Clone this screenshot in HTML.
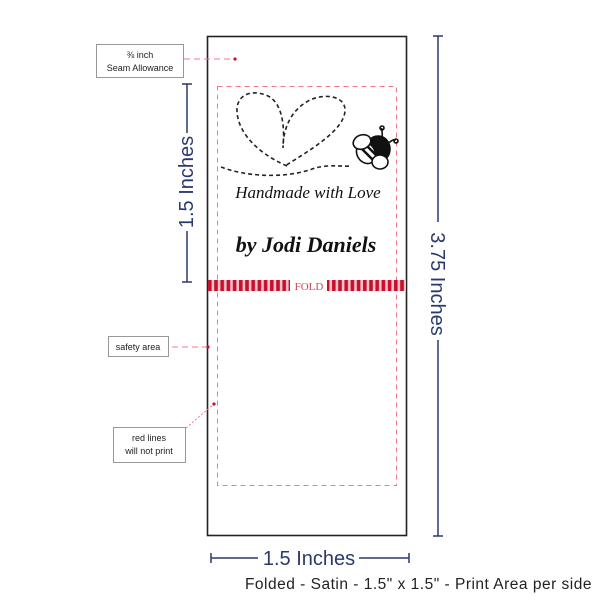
<!DOCTYPE html>
<html><head><meta charset="utf-8"><style>
html,body{margin:0;padding:0;background:#fff}
svg{display:block}
</style></head><body>
<svg width="600" height="600" viewBox="0 0 600 600" xmlns="http://www.w3.org/2000/svg" font-family="Liberation Sans, sans-serif">
<defs>
<pattern id="st" x="207" y="0" width="6.2" height="20" patternUnits="userSpaceOnUse">
<rect width="6.2" height="20" fill="#f4c6cc"/><rect x="1" width="3.6" height="20" fill="#c8102e"/>
</pattern>
</defs>
<rect x="207.5" y="36.5" width="199" height="499" fill="#fff" stroke="#222" stroke-width="1.6"/>
<rect x="217.5" y="86.5" width="179" height="399" fill="none" stroke="#f07a86" stroke-width="1" stroke-dasharray="5,4"/>
<rect x="208" y="280" width="198" height="11" fill="url(#st)"/>
<rect x="290" y="279" width="38" height="13" fill="#fff"/>
<text x="309" y="290" font-family="Liberation Serif, serif" font-size="11" fill="#d2445a" text-anchor="middle">FOLD</text>
<rect x="327" y="280" width="1.2" height="11" fill="#c8102e"/>
<path d="M221,167 C250,178 290,178 315,168 C330,164 345,167 352,166 M287,166 C255,152 236,130 237,108 C239,92 255,90 268,96 C282,103 285,125 283,148 C283,130 290,110 310,100 C325,93 345,96 345,110 C345,130 310,150 285,166" fill="none" stroke="#222" stroke-width="1.6" stroke-dasharray="4,3"/>
<!-- bee -->
<g stroke="#111" stroke-width="1.6">
<ellipse cx="378" cy="149" rx="12" ry="13" fill="#111"/>
<ellipse cx="366" cy="153" rx="9" ry="11" fill="#fff" transform="rotate(-30 366 153)"/>
<path d="M360,147 L373,160 M364,143 L377,156" stroke-width="2.5"/>
<ellipse cx="362" cy="142" rx="9" ry="7" fill="#fff" transform="rotate(-20 362 142)"/>
<ellipse cx="380" cy="162" rx="8" ry="7" fill="#fff"/>
<path d="M382,137 C383,132 381,130 382,128 M388,143 C392,141 393,139 396,140" fill="none"/>
<circle cx="382" cy="128" r="2" fill="none"/><circle cx="396" cy="141" r="2" fill="none"/>
</g>
<text x="308" y="198" font-family="Liberation Serif, serif" font-style="italic" font-size="17" fill="#111" text-anchor="middle">Handmade with Love</text>
<text x="306" y="252" font-family="Liberation Serif, serif" font-style="italic" font-weight="bold" font-size="22" fill="#111" text-anchor="middle">by Jodi Daniels</text>
<g stroke="#2b3a6e" stroke-width="1.5" fill="none">
<path d="M187,84V133 M187,231V282 M182,84H192 M182,282H192"/>
<path d="M438,36V222 M438,340V536 M433,36H443 M433,536H443"/>
<path d="M211,558H258 M359,558H409 M211,553V563 M409,553V563"/>
</g>
<text transform="translate(193,182) rotate(-90)" font-size="20" fill="#2b3a6e" text-anchor="middle">1.5 Inches</text>
<text transform="translate(431,284) rotate(90)" font-size="20" fill="#2b3a6e" text-anchor="middle">3.75 Inches</text>
<text x="309" y="565" font-size="20" fill="#2b3a6e" text-anchor="middle">1.5 Inches</text>
<text x="592" y="589" font-size="15.5" letter-spacing="0.5" fill="#222" text-anchor="end">Folded - Satin - 1.5" x 1.5" - Print Area per side</text>
<rect x="96.5" y="44.5" width="87" height="33" fill="#fff" stroke="#999"/>
<text x="140" y="58" font-size="9" fill="#222" text-anchor="middle">⅜ inch</text>
<text x="140" y="71" font-size="9" fill="#222" text-anchor="middle">Seam Allowance</text>
<path d="M184,59H234" stroke="#f07a86" stroke-dasharray="6,4"/>
<circle cx="235" cy="59" r="1.6" fill="#c8102e"/>
<rect x="108.5" y="336.5" width="60" height="20" fill="#fff" stroke="#999"/>
<text x="138" y="350" font-size="9" fill="#222" text-anchor="middle">safety area</text>
<path d="M172,347H207" stroke="#f07a86" stroke-dasharray="6,4"/>
<circle cx="208" cy="347" r="1.6" fill="#c8102e"/>
<rect x="113.5" y="427.5" width="72" height="35" fill="#fff" stroke="#999"/>
<text x="149" y="441" font-size="9" fill="#222" text-anchor="middle">red lines</text>
<text x="149" y="454" font-size="9" fill="#222" text-anchor="middle">will not print</text>
<path d="M186,428L214,404" stroke="#f07a86" stroke-dasharray="2,2"/>
<circle cx="214" cy="404" r="1.6" fill="#c8102e"/>
</svg>
</body></html>
